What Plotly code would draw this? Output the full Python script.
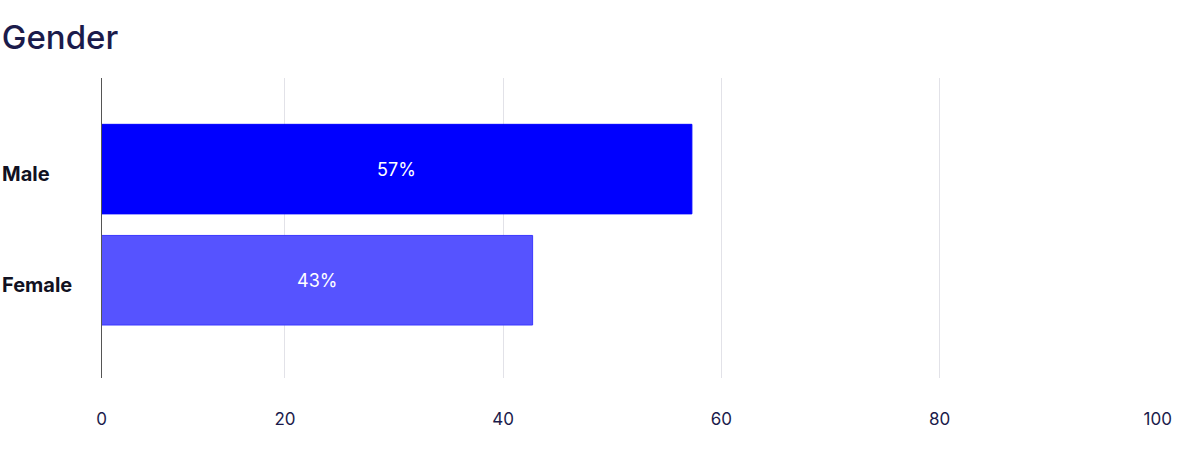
import plotly.graph_objects as go

categories = ["Male", "Female"]
values = [57.3, 42.7]
labels = ["57%", "43%"]
bar_colors = ["#0000FF", "#5653FF"]
line_colors = ["#0000FF", "#3B38FF"]
tick_vals = [3.2, 20, 40, 60, 80, 100]
tick_text = ["0", "20", "40", "60", "80", "100"]

navy = "#1B1B4B"
x_start = tick_vals[0]

fig = go.Figure(go.Bar(
    y=categories,
    x=values,
    orientation="h",
    marker=dict(color=bar_colors, line=dict(color=line_colors, width=1)),
    width=0.806,
    hoverinfo="skip",
))

for cat, v, lab in zip(categories, values, labels):
    fig.add_annotation(
        xref="paper", yref="y", x=0, y=cat, text=f"<b>{cat}</b>",
        xanchor="left", yanchor="middle", showarrow=False, yshift=-5,
        font=dict(family="Inter", size=20, color="#111122"),
    )
    fig.add_annotation(
        xref="x", yref="y", x=(x_start + v) / 2, y=cat, text=lab,
        xanchor="center", yanchor="middle", showarrow=False,
        font=dict(family="Inter", size=18, color="white"),
    )

fig.update_layout(
    width=1200, height=450,
    margin=dict(l=0, r=0, t=78, b=72),
    paper_bgcolor="white", plot_bgcolor="white",
    title=dict(text="Gender", x=0.0015, xanchor="left", xref="paper",
               y=1 - 37 / 450, yanchor="middle",
               font=dict(family="Inter", size=33, weight=500, color=navy)),
    showlegend=False,
)
fig.update_xaxes(
    domain=[101.7 / 1200, 1157.7 / 1200],
    range=[x_start, 100],
    tickvals=tick_vals, ticktext=tick_text,
    showgrid=True, gridcolor="#E2E2E8", gridwidth=1,
    zeroline=False, showline=False,
    tickfont=dict(family="Inter", size=17, color=navy),
    ticklabelstandoff=29,
    automargin=False,
    fixedrange=True,
)
fig.update_yaxes(
    categoryorder="array", categoryarray=categories,
    range=[1.88, -0.82],
    showticklabels=False,
    showgrid=False, zeroline=False,
    showline=True, linecolor="#555555", linewidth=1,
    automargin=False,
    fixedrange=True,
)

fig.write_html("out.html", config={"displayModeBar": False},
               post_script="document.body.style.margin='0';")
